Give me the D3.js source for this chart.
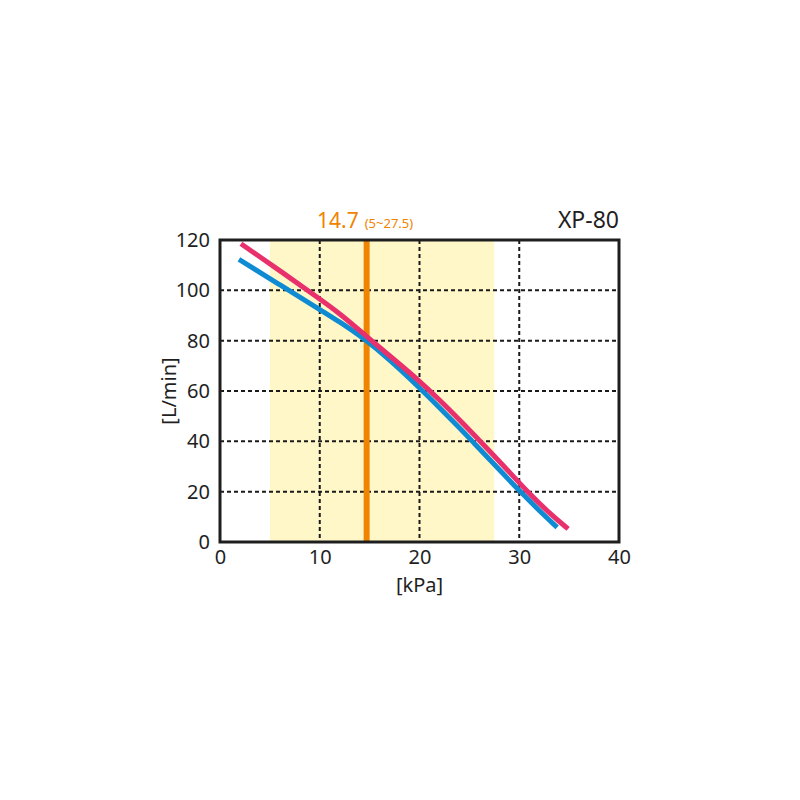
<!DOCTYPE html>
<html>
<head>
<meta charset="utf-8">
<script src="https://cdn.jsdelivr.net/npm/d3@7"></script>
<style>
  body { margin: 0; background: #fff; }
  svg text { font-family: "Noto Sans", "Open Sans", sans-serif; fill: #231f1f; }
</style>
</head>
<body>
<svg id="chart"></svg>
<script>
// curve readings [kPa, L/min]
const redCurve = [[2.1,118.5],[6,107.8],[10,96.6],[12.1,90.5],[14.6,82],[17.3,73],[20,64],[22,56.5],[24,48.6],[26.1,40],[28.5,30],[30.8,20],[33,11.5],[34.9,5.2]];
const blueCurve = [[1.9,112.3],[6,102.2],[10,92.4],[12.1,87.2],[14.4,81],[17,72.5],[20,61.3],[22.1,53],[24.1,45],[25.3,40],[27.7,30],[30.1,20],[32,12.5],[33.8,5.8]];
const xTicks = [0,10,20,30,40];
const yTicks = [0,20,40,60,80,100,120];
const rangeBand = [5, 27.5];
const ratedValue = 14.7;
const modelName = 'XP-80';

let width = 800;
let height = 800;
let plotLeft = 220, plotRight = 619, plotTop = 240, plotBottom = 542;

let svg = d3.select('#chart').attr('width', width).attr('height', height);

let xScale = d3.scaleLinear().domain([0, 40]).range([plotLeft, plotRight]);
let yScale = d3.scaleLinear().domain([0, 120]).range([plotBottom, plotTop]);

// operating range band
svg.append('rect')
   .attr('x', xScale(rangeBand[0]))
   .attr('y', plotTop)
   .attr('width', xScale(rangeBand[1]) - xScale(rangeBand[0]))
   .attr('height', plotBottom - plotTop)
   .attr('fill', '#fff7c8');

// dashed grid
svg.append('g').selectAll('line')
   .data(xTicks.slice(1, -1))
   .enter().append('line')
   .attr('x1', d => xScale(d)).attr('x2', d => xScale(d))
   .attr('y1', plotTop).attr('y2', plotBottom)
   .attr('stroke', '#1a1a1a').attr('stroke-width', 2)
   .attr('stroke-dasharray', '4,3');

svg.append('g').selectAll('line')
   .data(yTicks.slice(1, -1))
   .enter().append('line')
   .attr('x1', plotLeft).attr('x2', plotRight)
   .attr('y1', d => yScale(d)).attr('y2', d => yScale(d))
   .attr('stroke', '#1a1a1a').attr('stroke-width', 2)
   .attr('stroke-dasharray', '4,3');

// rated pressure line
svg.append('line')
   .attr('x1', xScale(ratedValue)).attr('x2', xScale(ratedValue))
   .attr('y1', plotTop).attr('y2', plotBottom)
   .attr('stroke', '#f08300').attr('stroke-width', 6);

let line = d3.line()
             .x(d => xScale(d[0]))
             .y(d => yScale(d[1]))
             .curve(d3.curveBasis);

svg.append('path')
   .datum(blueCurve)
   .attr('d', line)
   .attr('fill', 'none')
   .attr('stroke', '#0e8bd3')
   .attr('stroke-width', 5);

svg.append('path')
   .datum(redCurve)
   .attr('d', line)
   .attr('fill', 'none')
   .attr('stroke', '#e8306c')
   .attr('stroke-width', 5);

// frame
svg.append('rect')
   .attr('x', plotLeft).attr('y', plotTop)
   .attr('width', plotRight - plotLeft).attr('height', plotBottom - plotTop)
   .attr('fill', 'none')
   .attr('stroke', '#1e1e1e').attr('stroke-width', 3);

// axes (labels only)
let xAxis = d3.axisBottom(xScale).tickValues(xTicks).tickSize(0).tickPadding(8);
let yAxis = d3.axisLeft(yScale).tickValues(yTicks).tickSize(0).tickPadding(10);

let gx = svg.append('g')
   .attr('transform', 'translate(0,' + plotBottom + ')')
   .call(xAxis);
gx.select('.domain').remove();
gx.selectAll('text').attr('font-size', 20).attr('fill', '#231f1f').attr('font-family', '"Noto Sans", sans-serif');

let gy = svg.append('g')
   .attr('transform', 'translate(' + plotLeft + ',0)')
   .call(yAxis);
gy.select('.domain').remove();
gy.selectAll('text').attr('font-size', 20).attr('fill', '#231f1f').attr('font-family', '"Noto Sans", sans-serif');

svg.append('text')
   .attr('x', (plotLeft + plotRight) / 2)
   .attr('y', 592)
   .attr('text-anchor', 'middle')
   .attr('font-size', 20)
   .text('[kPa]');

svg.append('text')
   .attr('transform', 'translate(176,' + ((plotTop + plotBottom) / 2) + ') rotate(-90)')
   .attr('text-anchor', 'middle')
   .attr('font-size', 20)
   .text('[L/min]');

svg.append('text')
   .attr('x', plotRight)
   .attr('y', 228)
   .attr('text-anchor', 'end')
   .attr('font-size', 23)
   .text(modelName);

let rated = svg.append('text')
   .attr('x', 317)
   .attr('y', 228)
   .style('fill', '#f08300');
rated.append('tspan').attr('font-size', 21).text(ratedValue);
rated.append('tspan').attr('font-size', 13).attr('dx', 6).text('(' + rangeBand[0] + '~' + rangeBand[1] + ')');
</script>
</body>
</html>
